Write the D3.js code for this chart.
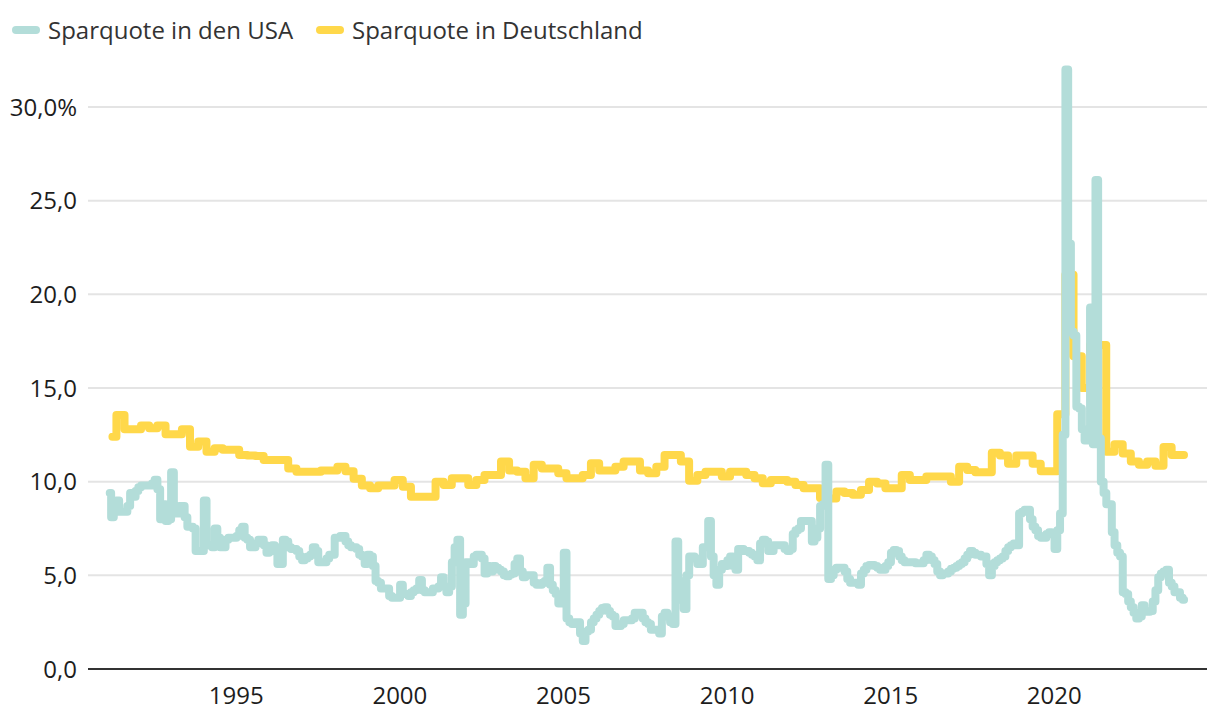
<!DOCTYPE html>
<html><head><meta charset="utf-8">
<script src="https://cdn.jsdelivr.net/npm/d3@7"></script>
<style>body{margin:0;background:#fff} text{font-family:"Open Sans",sans-serif}</style>
</head><body><svg id="c" width="1220" height="726"></svg>
<script>
const seriesNames = ["Sparquote in den USA", "Sparquote in Deutschland"];
const seriesColors = ["#b3ddd9", "#ffd84a"];
const yTicks = [0, 5, 10, 15, 20, 25, 30];
const xTickYears = [1995, 2000, 2005, 2010, 2015, 2020];

// USA, monthly, Jan 1991 - Nov 2023 (percent)
const usSaving = [
  9.4, 8.1, 8.9, 9.0, 8.4, 8.4, 8.4, 8.7, 9.4, 9.2, 9.5, 9.7,
  9.8, 9.8, 9.8, 9.8, 9.9, 10.1, 9.6, 8.0, 8.8, 7.9, 8.0, 10.5,
  8.3, 8.3, 8.7, 8.7, 8.1, 7.6, 7.6, 7.5, 6.3, 6.3, 6.3, 9.0,
  6.6, 6.6, 6.5, 7.5, 7.0, 6.5, 6.5, 6.9, 7.0, 7.0, 7.0, 7.1,
  7.4, 7.6, 7.0, 6.9, 6.5, 6.5, 6.7, 6.9, 6.9, 6.6, 6.2, 6.3,
  6.6, 6.5, 5.6, 5.6, 6.9, 6.8, 6.5, 6.4, 6.4, 6.3, 6.0, 5.8,
  5.9, 6.0, 6.1, 6.5, 6.3, 5.7, 5.7, 5.7, 5.9, 6.1, 6.1, 7.0,
  7.0, 7.1, 7.1, 6.8, 6.6, 6.5, 6.5, 6.4, 6.1, 6.0, 5.6, 6.1,
  6.0, 5.5, 4.7, 4.6, 4.3, 4.3, 4.3, 3.9, 3.8, 3.8, 3.8, 4.5,
  4.0, 4.0, 3.9, 4.1, 4.2, 4.3, 4.75, 4.2, 4.1, 4.1, 4.1, 4.3,
  4.3, 4.4, 4.9, 4.4, 4.1, 4.4, 5.7, 6.5, 6.9, 2.9, 3.5, 5.7,
  5.7, 5.6, 6.0, 6.1, 6.1, 5.9, 5.1, 5.5, 5.2, 5.5, 5.4, 5.3,
  5.2, 5.0, 4.95, 5.05, 5.1, 5.6, 5.9, 5.2, 4.9, 5.0, 5.0, 5.0,
  4.6, 4.5, 4.5, 4.6, 4.7, 5.4, 4.5, 4.2, 4.0, 3.5, 3.6, 6.2,
  2.7, 2.5, 2.4, 2.5, 2.5, 1.9, 1.5, 2.0, 2.1, 2.5, 2.7, 2.9,
  3.1, 3.25, 3.3, 3.1, 2.9, 2.8, 2.3, 2.3, 2.4, 2.6, 2.6, 2.6,
  2.7, 3.0, 3.0, 3.0, 2.7, 2.5, 2.4, 2.1, 2.1, 2.1, 1.9, 2.8,
  3.0, 2.8, 2.5, 2.4, 6.8, 4.7, 3.7, 3.2, 5.0, 6.0, 6.0, 5.9,
  5.6, 5.6, 6.5, 6.5, 7.9, 6.0, 5.0, 4.5, 5.3, 5.6, 5.5, 5.8,
  6.0, 5.5, 5.3, 6.4, 6.4, 6.3, 6.3, 6.2, 6.1, 6.0, 5.8, 6.7,
  6.9, 6.8, 6.3, 6.3, 6.6, 6.6, 6.6, 6.6, 6.4, 6.3, 6.4, 7.2,
  7.4, 7.5, 7.9, 7.9, 7.9, 7.9, 6.8, 7.0, 7.5, 8.7, 8.8, 10.9,
  4.8, 5.0, 5.3, 5.4, 5.4, 5.4, 5.2, 4.8, 4.6, 4.6, 4.6, 4.5,
  5.1, 5.3, 5.5, 5.55, 5.55, 5.5, 5.4, 5.3, 5.3, 5.5, 5.7, 6.2,
  6.35, 6.3, 6.0, 5.8, 5.7, 5.7, 5.7, 5.7, 5.65, 5.65, 5.65, 5.8,
  6.1, 6.0, 5.8, 5.6, 5.2, 5.0, 5.1, 5.1, 5.2, 5.35, 5.4, 5.5,
  5.6, 5.7, 5.9, 6.1, 6.3, 6.2, 6.1, 6.1, 6.0, 6.0, 5.6, 5.0,
  5.5, 5.7, 5.8, 5.9, 6.0, 6.3, 6.5, 6.6, 6.7, 6.6, 8.3, 8.4,
  8.5, 8.5, 8.0, 7.6, 7.4, 7.1, 7.0, 7.0, 7.2, 7.3, 7.2, 6.4,
  7.4, 8.3, 12.5, 32.0, 22.7, 18.0, 17.8, 14.0, 13.9, 12.8, 12.2, 12.2,
  19.3, 12.0, 26.1, 12.3, 10.0, 9.4, 8.8, 8.8, 7.3, 6.6, 6.2, 6.0,
  4.1, 4.0, 3.6, 3.3, 3.0, 2.7, 2.8, 3.4, 3.1, 3.05, 3.1, 3.6,
  4.2, 4.9, 5.1, 5.2, 5.3, 4.6, 4.4, 4.1, 4.1, 3.8, 3.7
];

// Germany, quarterly, 1991 Q1 - 2023 Q4 (percent)
const deSaving = [
  12.4, 13.56, 12.8, 12.8,
  13.0, 12.85, 13.0, 12.53,
  12.53, 12.8, 11.87, 12.14,
  11.6, 11.78, 11.7, 11.7,
  11.42, 11.4, 11.37, 11.16,
  11.16, 11.16, 10.7, 10.53,
  10.53, 10.53, 10.6, 10.6,
  10.8, 10.55, 10.15, 9.8,
  9.65, 9.8, 9.8, 10.09,
  9.73, 9.2, 9.2, 9.2,
  10.0, 9.82, 10.18, 10.18,
  9.82, 10.09, 10.36, 10.36,
  11.07, 10.6, 10.53, 10.18,
  10.9, 10.7, 10.7, 10.45,
  10.18, 10.18, 10.35, 10.98,
  10.6, 10.6, 10.8, 11.07,
  11.07, 10.6, 10.45, 10.8,
  11.42, 11.42, 11.07, 10.05,
  10.36, 10.53, 10.53, 10.27,
  10.53, 10.53, 10.36, 10.18,
  9.91, 10.09, 10.09, 10.0,
  9.82, 9.65, 9.65, 9.13,
  9.1, 9.47, 9.4, 9.3,
  9.55, 10.0, 9.9, 9.65,
  9.65, 10.36, 10.09, 10.09,
  10.27, 10.27, 10.27, 10.0,
  10.8, 10.62, 10.5, 10.5,
  11.55, 11.4, 10.95, 11.4,
  11.4, 10.95, 10.55, 10.55,
  13.6, 21.05, 16.7, 15.0,
  17.3, 17.3, 11.6, 12.0,
  11.5, 11.07, 10.9, 11.07,
  10.85, 11.85, 11.42, 11.42
];

const usData = usSaving.map((v, i) => ({ date: new Date(1991, i, 16), value: v }));
const deData = deSaving.map((v, i) => ({ date: new Date(1991, 3 * i + 1, 15), value: v }));

const svg = d3.select("#c");
svg.append("rect").attr("width", 1220).attr("height", 726).attr("fill", "#fff");

const x = d3.scaleTime()
  .domain([new Date(1991, 0, 1), new Date(2024, 0, 1)])
  .range([108.4, 1188.2]);
const y = d3.scaleLinear().domain([0, 30]).range([669, 107]);
const plotLeft = 88, plotRight = 1207;
const fontSize = 24;

// gridlines
svg.append("g").selectAll("line").data(yTicks.filter(d => d > 0)).join("line")
  .attr("x1", plotLeft).attr("x2", plotRight)
  .attr("y1", d => y(d)).attr("y2", d => y(d))
  .attr("stroke", "#e4e4e4").attr("stroke-width", 2);

// y labels
svg.append("g").selectAll("text").data(yTicks).join("text")
  .attr("x", 77).attr("y", d => y(d) + 8.5)
  .attr("text-anchor", "end")
  .attr("font-size", fontSize).attr("fill", "#1d1d1d")
  .text(d => d3.format(".1f")(d).replace(".", ",") + (d === 30 ? "%" : ""));

// x labels
svg.append("g").selectAll("text").data(xTickYears).join("text")
  .attr("x", d => x(new Date(d, 0, 1)) - 3)
  .attr("y", 704)
  .attr("text-anchor", "middle")
  .attr("font-size", fontSize).attr("fill", "#1d1d1d")
  .text(d => d);

// lines
const line = d3.line().curve(d3.curveStep)
  .x(d => x(d.date)).y(d => y(d.value));

svg.append("path").datum(deData)
  .attr("d", line).attr("fill", "none")
  .attr("stroke", seriesColors[1]).attr("stroke-width", 8)
  .attr("stroke-linejoin", "round").attr("stroke-linecap", "round");

svg.append("path").datum(usData)
  .attr("d", line).attr("fill", "none")
  .attr("stroke", seriesColors[0]).attr("stroke-width", 8)
  .attr("stroke-linejoin", "round").attr("stroke-linecap", "round");

// baseline
svg.append("line").attr("x1", plotLeft).attr("x2", plotRight)
  .attr("y1", y(0)).attr("y2", y(0))
  .attr("stroke", "#333").attr("stroke-width", 2);

// legend
const legendX = [16, 320];
const lg = svg.append("g").selectAll("g").data(seriesNames).join("g");
lg.append("line")
  .attr("x1", (d, i) => legendX[i]).attr("x2", (d, i) => legendX[i] + 20)
  .attr("y1", 30).attr("y2", 30)
  .attr("stroke", (d, i) => seriesColors[i]).attr("stroke-width", 8)
  .attr("stroke-linecap", "round");
lg.append("text")
  .attr("x", (d, i) => legendX[i] + 32).attr("y", 38.5)
  .attr("font-size", fontSize).attr("fill", "#333")
  .text(d => d);
</script></body></html>
